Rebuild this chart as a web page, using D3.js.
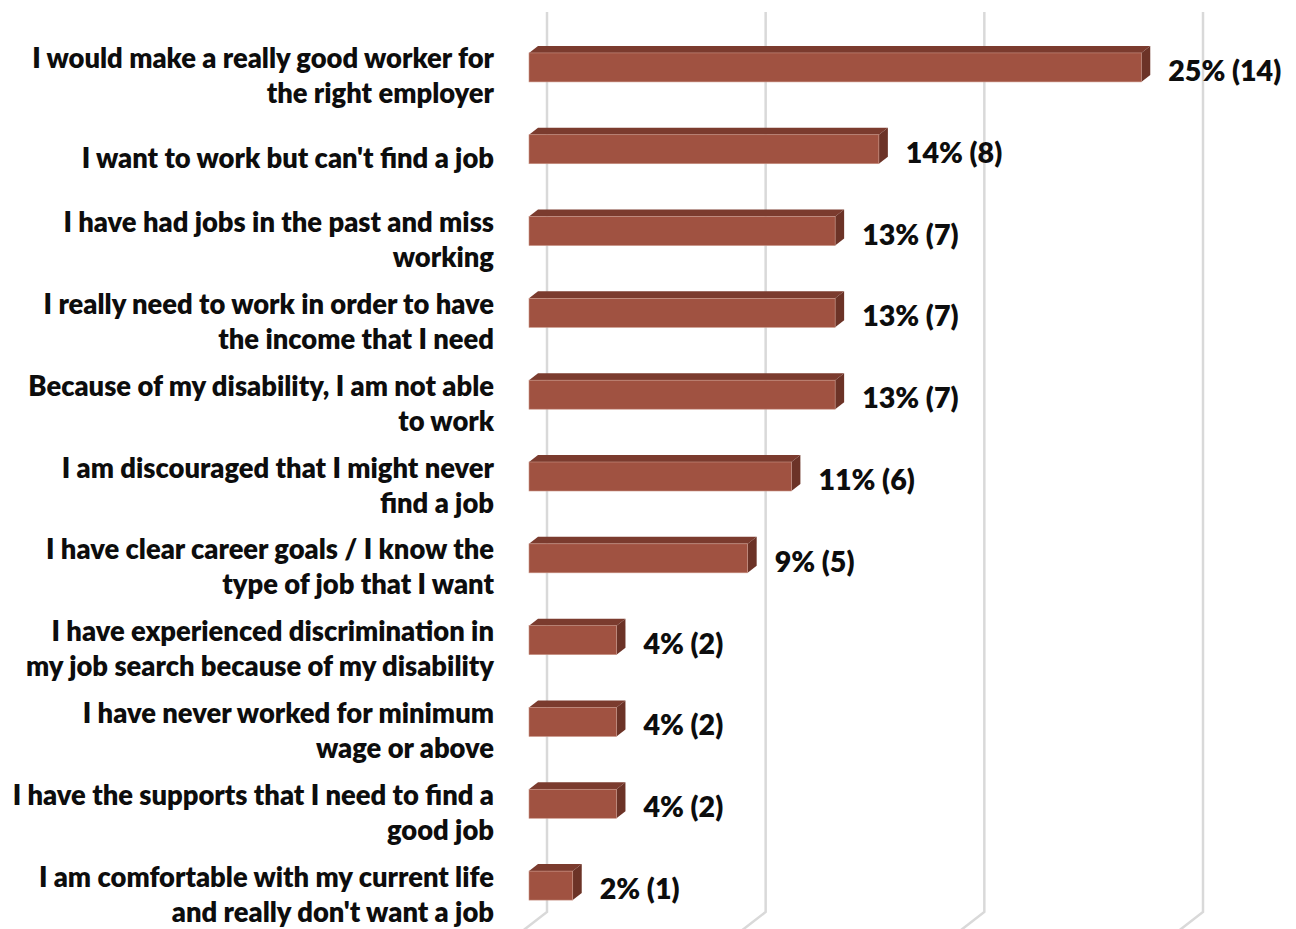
<!DOCTYPE html>
<html>
<head>
<meta charset="utf-8">
<script src="https://cdn.jsdelivr.net/npm/d3@7"></script>
<style>
  html, body { margin: 0; padding: 0; background: #ffffff; }
  svg { display: block; }
  text { font-family: Lato, "Open Sans", sans-serif; font-weight: 800; fill: #0d0d0d; }
</style>
</head>
<body>
<svg id="chart" width="1296" height="929"></svg>
<script>
// Survey answers (line breaks mark where each label wraps)
const categories = [
  "I would make a really good worker for\nthe right employer",
  "I want to work but can't find a job",
  "I have had jobs in the past and miss\nworking",
  "I really need to work in order to have\nthe income that I need",
  "Because of my disability, I am not able\nto work",
  "I am discouraged that I might never\nfind a job",
  "I have clear career goals / I know the\ntype of job that I want",
  "I have experienced discrimination in\nmy job search because of my disability",
  "I have never worked for minimum\nwage or above",
  "I have the supports that I need to find a\ngood job",
  "I am comfortable with my current life\nand really don't want a job"
];
const counts   = [14, 8, 7, 7, 7, 6, 5, 2, 2, 2, 1];
const percents = [25, 14, 13, 13, 13, 11, 9, 4, 4, 4, 2];
const gridTicks = [0, 5, 10, 15];

const svg = d3.select("#chart");
const W = 1296, H = 929;

// 3D geometry: the back wall sits behind the bar fronts
const wallDx = 18;            // back wall offset from front plane
const barDx = 9, barDy = -7;  // bar depth projection
const barH = 29;

const x = d3.scaleLinear().domain([0, 15]).range([529, 1185]);
const y = d3.scaleBand().domain(d3.range(categories.length)).range([12, 912]);

const colFront = "#a05241", colTop = "#7b3b2e", colSide = "#6c3327";

// Back-wall gridlines and their slant across the floor
const floorSlope = 22 / 17;
const grid = svg.append("g");
gridTicks.forEach(t => {
  const gx = x(t) + wallDx;
  const dy = H - 912 + 4;
  grid.append("path")
    .attr("d", `M${gx},12 L${gx},912 L${gx - dy * floorSlope},${912 + dy}`)
    .attr("fill", "none")
    .attr("stroke", "#d9d9d9")
    .attr("stroke-width", 2.5);
});

// Bars
const bars = svg.append("g");
counts.forEach((c, i) => {
  const top = y(i) + y.bandwidth() / 2;
  const x0 = x(0), x1 = x(c);
  const g = bars.append("g");
  g.append("polygon")
    .attr("points", [[x0, top], [x0 + barDx, top + barDy], [x1 + barDx, top + barDy], [x1, top]].join(" "))
    .attr("fill", colTop);
  g.append("polygon")
    .attr("points", [[x1, top], [x1 + barDx, top + barDy], [x1 + barDx, top + barH + barDy], [x1, top + barH]].join(" "))
    .attr("fill", colSide);
  g.append("rect")
    .attr("x", x0).attr("y", top)
    .attr("width", x1 - x0).attr("height", barH)
    .attr("fill", colFront)
    .attr("stroke", "#c99486").attr("stroke-width", 0.6);
});

// Category labels, sized so the widest line spans the label column
const catSize = (() => {
  const probe = svg.append("text").attr("font-size", 24).text("I would make a really good worker for");
  const w = probe.node().getComputedTextLength();
  probe.remove();
  return 24 * 462 / w;
})();
const lineGap = 35;
const labels = svg.append("g").attr("text-anchor", "end");
categories.forEach((cat, i) => {
  const lines = cat.split("\n");
  const cy = y(i) + y.bandwidth() / 2 + 22;
  const t = labels.append("text")
    .attr("font-size", catSize)
    .attr("dominant-baseline", "central");
  lines.forEach((ln, k) => {
    t.append("tspan")
      .attr("x", 494)
      .attr("y", cy + (k - (lines.length - 1) / 2) * lineGap)
      .text(ln);
  });
});

// Value labels
const valSize = (() => {
  const probe = svg.append("text").attr("font-size", 24).text("25% (14)");
  const w = probe.node().getComputedTextLength();
  probe.remove();
  return 24 * 113 / w;
})();
const vals = svg.append("g");
counts.forEach((c, i) => {
  vals.append("text")
    .attr("x", x(c) + 27)
    .attr("y", y(i) + y.bandwidth() / 2 + 17)
    .attr("dominant-baseline", "central")
    .attr("font-size", valSize)
    .text(`${percents[i]}% (${c})`);
});
</script>
</body>
</html>
